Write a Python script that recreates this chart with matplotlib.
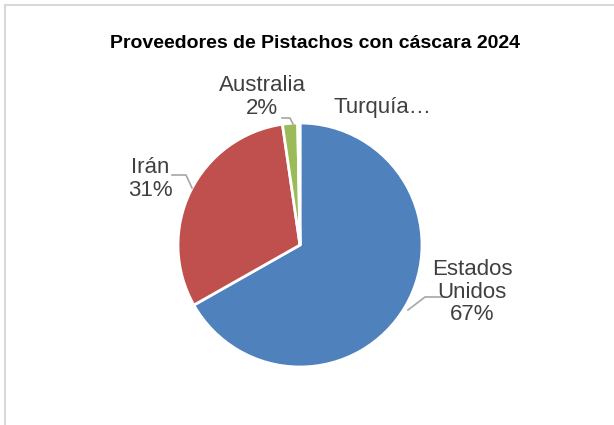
import matplotlib
matplotlib.use("Agg")
import matplotlib.pyplot as plt
from matplotlib import font_manager

# datos del grafico
paises = ["Estados Unidos", "Irán", "Australia", "Turquía"]
porcentajes = [66.8, 30.9, 2.0, 0.3]
colores = ["#4F81BD", "#C0504D", "#9BBB59", "#F79646"]
titulo = "Proveedores de Pistachos con cáscara 2024"

nombres = [f.name for f in font_manager.fontManager.ttflist]
fuente = "Liberation Sans Narrow" if "Liberation Sans Narrow" in nombres else "Liberation Sans"
plt.rcParams["font.family"] = [fuente, "DejaVu Sans"]

W, H = 614, 425
CX, CY, R = 300, 245, 122

def px(x, y):
    # pixel de la imagen -> coordenadas de datos
    return (x - CX) / R, (CY - y) / R

fig = plt.figure(figsize=(W / 100, H / 100), dpi=100)
ax = fig.add_axes([0, 0, 1, 1])
ax.pie(porcentajes, colors=colores, startangle=90, counterclock=False,
       radius=1, wedgeprops=dict(edgecolor="white", linewidth=2))
ax.set_xlim(px(0, 0)[0], px(W, 0)[0])
ax.set_ylim(px(0, H)[1], px(0, 0)[1])
ax.set_aspect("auto")
ax.axis("off")

# marco del grafico
fig.add_artist(plt.Line2D([5 / W, 5 / W], [0, 1 - 5 / H], color="#D9D9D9", lw=1.5, transform=fig.transFigure))
fig.add_artist(plt.Line2D([5 / W, 1], [1 - 5 / H, 1 - 5 / H], color="#D9D9D9", lw=1.5, transform=fig.transFigure))

fig.text(315 / W, 1 - 44 / H, titulo, ha="center", va="center",
         fontsize=14, fontweight="bold", color="black")

gris = "#404040"
linea = "#A6A6A6"
etiquetas = [
    (f"{paises[0].split()[0]}\n{paises[0].split()[1]}\n{round(porcentajes[0])}%", (472, 292), [(445, 297), (425, 297), (408, 310)], "center"),
    (f"{paises[1]}\n{round(porcentajes[1])}%", (150, 179), [(172, 175), (186, 175), (192, 188)], "center"),
    (f"{paises[2]}\n{round(porcentajes[2])}%", (262, 97), [(282, 118), (290, 118), (293, 124)], "center"),
    ("Turquía…", (333, 108), None, "left"),
]
for texto, pos, guia, alin in etiquetas:
    x, y = px(*pos)
    ax.text(x, y, texto, ha=alin, va="center", fontsize=16, color=gris, linespacing=1.1)
    if guia:
        xs, ys = zip(*[px(*p) for p in guia])
        ax.plot(xs, ys, color=linea, lw=1.2)

fig.savefig("out.png", dpi=100, facecolor="white")
